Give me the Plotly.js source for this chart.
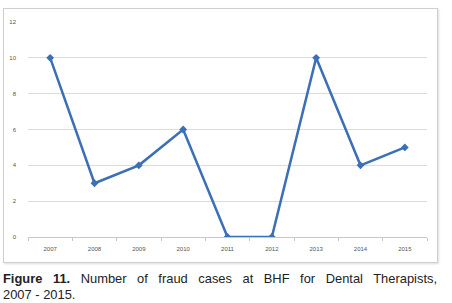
<!DOCTYPE html>
<html><head><meta charset="utf-8">
<script src="https://cdn.plot.ly/plotly-3.0.1.min.js"></script>
<style>
body{margin:0;background:#fff;}
#wrap{position:relative;width:452px;height:303px;overflow:hidden;}
#frame{position:absolute;left:3px;top:8px;width:433px;height:253px;border:1px solid #cfcfcf;box-shadow:1px 1px 2px #ddd;}
#chart{position:absolute;left:0;top:0;width:452px;height:303px;}
#cap{position:absolute;left:3px;top:271px;width:434px;font-family:"Liberation Sans",Arial,sans-serif;font-size:12.9px;line-height:16px;color:#222;text-align:justify;text-align-last:left;}
.nw{white-space:nowrap;}
</style></head>
<body><div id="wrap"><div id="frame"></div><div id="chart"></div>
<div id="cap"><b>Figure 11.</b> Number of fraud cases at BHF for Dental Therapists, <span class="nw">2007 - 2015.</span></div></div>
<script>
var years = ["2007","2008","2009","2010","2011","2012","2013","2014","2015"];
var cases = [10, 3, 4, 6, 0, 0, 10, 4, 5];
var yTicks = [0, 2, 4, 6, 8, 10, 12];

Plotly.newPlot('chart', [{
  x: years, y: cases, type: 'scatter', mode: 'lines+markers',
  line: {color: '#3b6fb6', width: 2.5},
  marker: {symbol: 'diamond', size: 6, color: '#3b6fb6'},
  hoverinfo: 'none'
}], {
  width: 452, height: 303,
  margin: {l: 28, r: 25, t: 22, b: 66},
  paper_bgcolor: 'rgba(0,0,0,0)', plot_bgcolor: 'rgba(0,0,0,0)',
  showlegend: false,
  xaxis: {type: 'category', range: [-0.5, 8.5], showgrid: false, showline: true,
    linecolor: '#c8c8c8', linewidth: 1, ticks: 'outside', tickson: 'boundaries',
    ticklen: 3, tickcolor: '#c8c8c8', ticklabelstandoff: 6,
    tickfont: {family: 'Liberation Sans, Arial', size: 6, color: '#555'}, zeroline: false},
  yaxis: {range: [0, 12], tickvals: yTicks, showgrid: true, gridcolor: '#dcdcdc',
    gridwidth: 1, zeroline: false, showline: false, ticks: '', ticklabelstandoff: 11,
    tickfont: {family: 'Liberation Sans, Arial', size: 6, color: '#555'}}
}, {staticPlot: true});
</script></body></html>
